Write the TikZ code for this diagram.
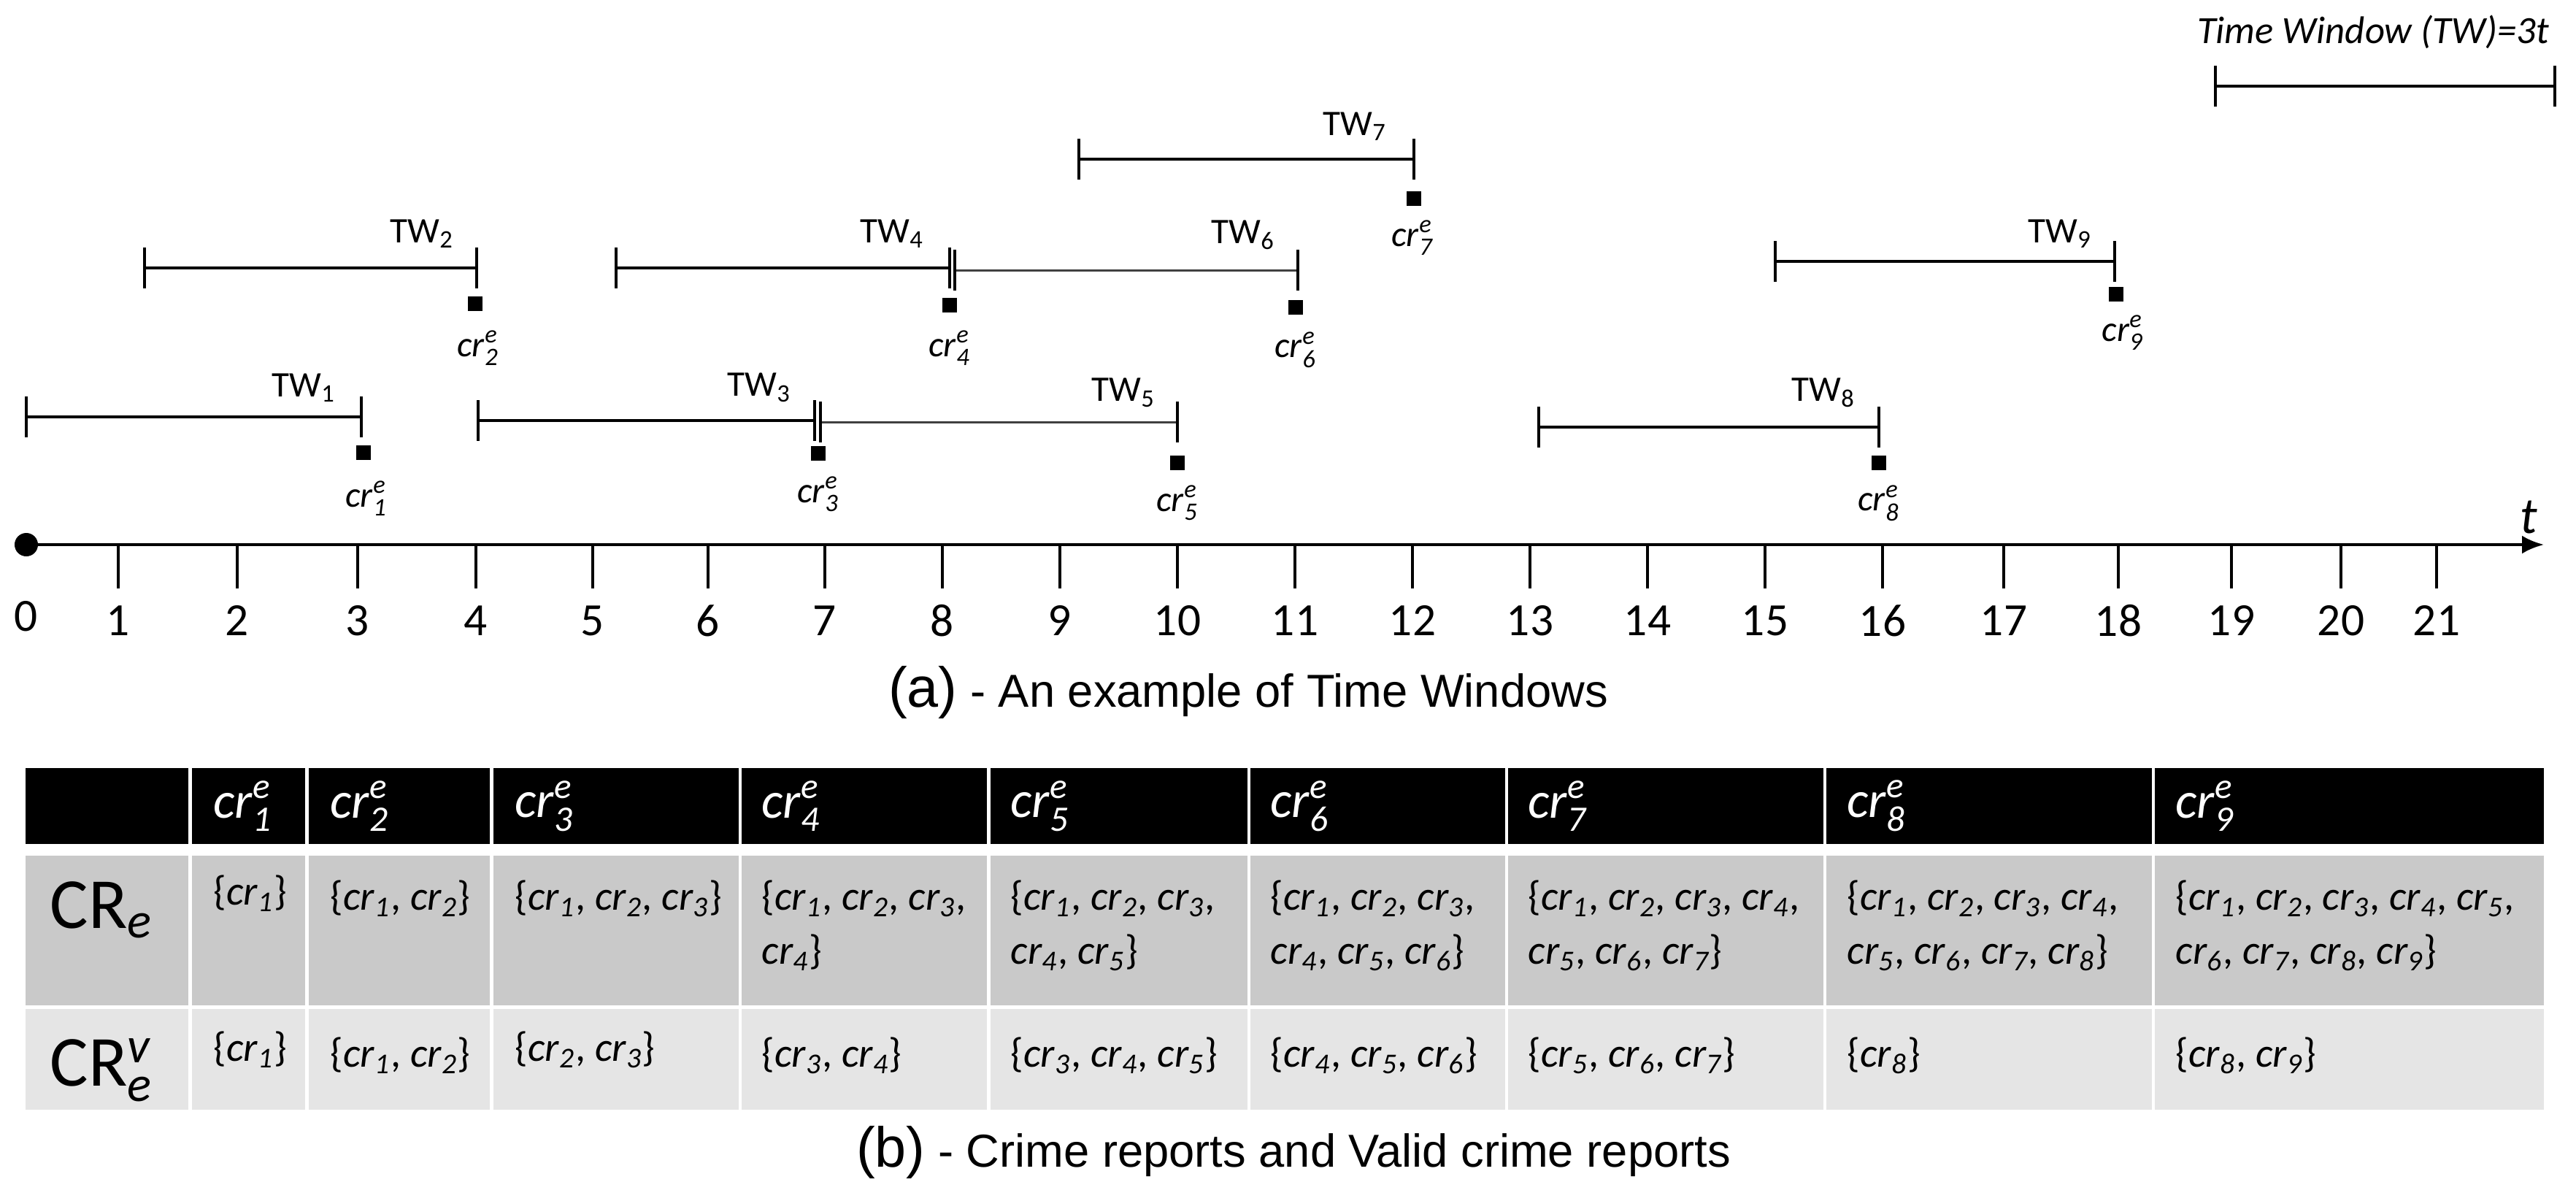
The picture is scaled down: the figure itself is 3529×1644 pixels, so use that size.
\documentclass[tikz,border=0pt]{standalone}
\usepackage{amsmath}
\usepackage{fontspec}
\usetikzlibrary{arrows.meta}
\setmainfont{Carlito}
\newfontfamily\capfont{Liberation Sans}
\newcommand{\crl}[1]{\textit{cr}$^{\textit{e}}_{\textit{#1}}$}
\newcommand{\cri}[1]{\textit{cr}$_{\textit{#1}}$}
\begin{document}
\begin{tikzpicture}[x=0.01cm,y=-0.01cm,
  tw/.style={line width=0.045cm,black},
  twthin/.style={line width=0.03cm,black!75},
  sq/.style={fill=black,minimum size=0.2cm,inner sep=0pt},
  crlab/.style={font=\fontsize{14pt}{16pt}\selectfont,inner sep=0pt},
  twlab/.style={font=\fontsize{14pt}{16pt}\selectfont,inner sep=0pt},
  tickmark/.style={line width=0.04cm},
  ticklab/.style={font=\fontsize{18pt}{20pt}\selectfont,inner sep=0pt},
  hdrfill/.style={fill=black,draw=none},
  rowone/.style={fill=black!21,draw=none},
  rowtwo/.style={fill=black!10,draw=none},
  htxt/.style={anchor=west,text=white,font=\fontsize{20pt}{22pt}\selectfont,inner sep=0pt},
  ctxt/.style={anchor=north west,align=left,font=\fontsize{16pt}{21pt}\selectfont,inner sep=0pt},
  rlab/.style={anchor=base west,font=\fontsize{28pt}{30pt}\selectfont,inner sep=0pt},
  captxt/.style={font=\capfont\fontsize{18pt}{20pt}\selectfont,inner sep=0pt}]
\useasboundingbox (0,0) rectangle (3529,1644);
% axis
\coordinate (o) at (36,746);
\coordinate (aend) at (3485,746);
\draw[line width=0.045cm,-{Latex[length=0.3cm,width=0.25cm]}] (o) -- (aend);
\fill (o) circle (0.16cm);
\node[font=\fontsize{20pt}{22pt}\selectfont\itshape,inner sep=0pt] (tlab) at (3464,708) {t};
\node[ticklab] (l0) at (36,844) {0};
\foreach \k/\x in {1/162,2/325,3/490,4/652,5/812,6/970,7/1130,8/1291,9/1452,10/1613,11/1774,12/1935,13/2096,14/2257,15/2418,16/2579,17/2745,18/2902,19/3057,20/3207,21/3338}{
  \draw[tickmark] (\x,746) -- (\x,806);
  \node[ticklab] (l\k) at (\x,850) {\k};
}
% windows: name/start/end/y/style
\foreach \n/\a/\b/\y/\s in {1/36/495/571/tw,2/198/653/367/tw,3/655/1116/576/tw,5/1124/1613/578/twthin,4/844/1301/367/tw,6/1308/1778/370/twthin,7/1478/1937/218/tw,8/2108/2574/585/tw,9/2432/2897/358/tw}{
  \coordinate (s\n) at (\a,\y);
  \coordinate (e\n) at (\b,\y);
  \draw[\s] (s\n) -- (e\n);
  \draw[tw] ([yshift=0.28cm]s\n) -- ([yshift=-0.28cm]s\n);
  \draw[tw] ([yshift=0.28cm]e\n) -- ([yshift=-0.28cm]e\n);
}
% markers and labels
\foreach \n/\x/\y/\lx/\ly/\tx/\ty in {1/498/620/502/683/416/531,2/651/416/655/477/578/320,3/1121/621/1121/677/1040/531,4/1301/418/1301/477/1222/320,5/1613/634/1613/689/1539/538,6/1775/421/1775/479/1703/322,7/1937/272/1935/326/1856/173,8/2574/634/2574/689/2498/538,9/2899/403/2908/456/2822/320}{
  \node[sq] (m\n) at (\x,\y) {};
  \node[crlab] (c\n) at (\lx,\ly) {\crl{\n}};
  \node[twlab] (w\n) at (\tx,\ty) {TW$_{\text{\n}}$};
}
% legend
\coordinate (la) at (3035,118);
\coordinate (lb) at (3500,118);
\draw[tw] (la) -- (lb);
\draw[tw] ([yshift=0.28cm]la) -- ([yshift=-0.28cm]la);
\draw[tw] ([yshift=0.28cm]lb) -- ([yshift=-0.28cm]lb);
\node[font=\fontsize{15pt}{17pt}\selectfont\itshape,inner sep=0pt] (leg) at (3251,44) {Time Window (TW)=3t};
\node[captxt] (capa) at (1710,948) {{\fontsize{22pt}{24pt}\selectfont(a)} - An example of Time Windows};
% table
\foreach \l/\r in {35/258,263/418,423/671,676/1012,1016/1352,1357/1709,1713/2062,2066/2498,2502/2948,2952/3485}{
  \fill[hdrfill] (\l,1052) rectangle (\r,1156);
  \fill[rowone] (\l,1172) rectangle (\r,1377);
  \fill[rowtwo] (\l,1382) rectangle (\r,1520);
}
\foreach \n/\x in {1/292,2/452,3/705,4/1043,5/1384,6/1740,7/2093,8/2530,9/2980}{
  \node[htxt] (h\n) at (\x,1104) {\crl{\n}};
}
\node[rlab] (re) at (68,1271) {CR$_{\textit{e}}$};
\node[rlab] (rv) at (68,1487) {CR$^{\textit{v}}_{\textit{e}}$};
\node[ctxt] (a1) at (292,1198) {\{\cri1\}};
\node[ctxt] (a2) at (452,1205) {\{\cri1, \cri2\}};
\node[ctxt] (a3) at (705,1205) {\{\cri1, \cri2, \cri3\}};
\node[ctxt] (a4) at (1043,1205) {\{\cri1, \cri2, \cri3,\\ \cri4\}};
\node[ctxt] (a5) at (1384,1205) {\{\cri1, \cri2, \cri3,\\ \cri4, \cri5\}};
\node[ctxt] (a6) at (1740,1205) {\{\cri1, \cri2, \cri3,\\ \cri4, \cri5, \cri6\}};
\node[ctxt] (a7) at (2093,1205) {\{\cri1, \cri2, \cri3, \cri4,\\ \cri5, \cri6, \cri7\}};
\node[ctxt] (a8) at (2530,1205) {\{\cri1, \cri2, \cri3, \cri4,\\ \cri5, \cri6, \cri7, \cri8\}};
\node[ctxt] (a9) at (2980,1205) {\{\cri1, \cri2, \cri3, \cri4, \cri5,\\ \cri6, \cri7, \cri8, \cri9\}};
\node[ctxt] (b1) at (292,1412) {\{\cri1\}};
\node[ctxt] (b2) at (452,1420) {\{\cri1, \cri2\}};
\node[ctxt] (b3) at (705,1412) {\{\cri2, \cri3\}};
\node[ctxt] (b4) at (1043,1420) {\{\cri3, \cri4\}};
\node[ctxt] (b5) at (1384,1420) {\{\cri3, \cri4, \cri5\}};
\node[ctxt] (b6) at (1740,1420) {\{\cri4, \cri5, \cri6\}};
\node[ctxt] (b7) at (2093,1420) {\{\cri5, \cri6, \cri7\}};
\node[ctxt] (b8) at (2530,1420) {\{\cri8\}};
\node[ctxt] (b9) at (2980,1420) {\{\cri8, \cri9\}};
\node[captxt] (capb) at (1772,1578) {{\fontsize{22pt}{24pt}\selectfont(b)} - Crime reports and Valid crime reports};
\end{tikzpicture}
\end{document}
